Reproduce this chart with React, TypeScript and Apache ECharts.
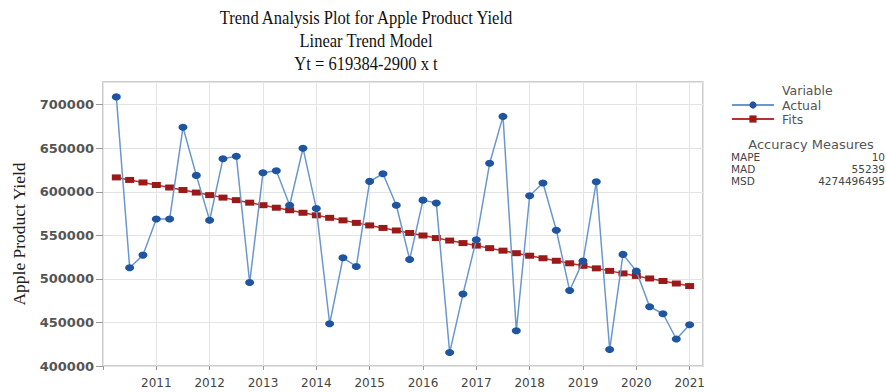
import React, { useEffect, useRef } from "react";
import * as echarts from "echarts";

const periods = [1, 2, 3, 4, 5, 6, 7, 8, 9, 10, 11, 12, 13, 14, 15, 16, 17, 18, 19, 20, 21, 22, 23, 24, 25, 26, 27, 28, 29, 30, 31, 32, 33, 34, 35, 36, 37, 38, 39, 40, 41, 42, 43, 44];

const actual = [
  708900, 512700, 527300, 568800, 568800, 674000, 618800, 567300, 638000, 640700,
  495800, 621900, 624200, 584500, 650000, 580700, 448500, 524200, 514300, 611900,
  620700, 584500, 522300, 590400, 587000, 415400, 482600, 545000, 632700, 686500,
  440400, 595400, 610000, 555800, 486600, 520400, 611500, 418900, 528100, 508900,
  468000, 460000, 431000, 447300,
];

const fits = [
  616484, 613584, 610684, 607784, 604884, 601984, 599084, 596184, 593284, 590384,
  587484, 584584, 581684, 578784, 575884, 572984, 570084, 567184, 564284, 561384,
  558484, 555584, 552684, 549784, 546884, 543984, 541084, 538184, 535284, 532384,
  529484, 526584, 523684, 520784, 517884, 514984, 512084, 509184, 506284, 503384,
  500484, 497584, 494684, 491784,
];

const firstYear = 2010;
const titleLines = ["Trend Analysis Plot for Apple Product Yield", "Linear Trend Model", "Yt = 619384-2900 x t"];
const measureNames = ["MAPE", "MAD", "MSD"];
const measureValues = ["10", "55239", "4274496495"];

export default function App() {
  const ref = useRef<HTMLDivElement>(null);
  useEffect(() => {
    if (!ref.current) return;
    const chart = echarts.init(ref.current, null, { renderer: "svg" });
    const sans = "'DejaVu Sans', sans-serif";
    const serif = "'Liberation Serif', serif";
    const graphics: any[] = [];
    titleLines.forEach((t, i) => {
      graphics.push({
        type: "text",
        x: 366,
        y: 18 + i * 23,
        scaleX: 0.87,
        style: { text: t, font: `19px ${serif}`, fill: "#111", textAlign: "center", textVerticalAlign: "middle" },
      });
    });
    graphics.push({
      type: "text",
      x: 19,
      y: 234,
      rotation: Math.PI / 2,
      style: { text: "Apple Product Yield", font: `17.5px ${serif}`, fill: "#222", textAlign: "center", textVerticalAlign: "middle" },
    });
    graphics.push({
      type: "text",
      x: 782,
      y: 90,
      style: { text: "Variable", font: `12.5px ${sans}`, fill: "#555", textVerticalAlign: "middle" },
    });
    graphics.push({
      type: "text",
      x: 811,
      y: 144,
      style: { text: "Accuracy Measures", font: `13px ${sans}`, fill: "#555", textAlign: "center", textVerticalAlign: "middle" },
    });
    measureNames.forEach((n, i) => {
      graphics.push({
        type: "text",
        x: 731,
        y: 157 + i * 12,
        style: { text: n, font: `10.5px ${sans}`, fill: "#444", textVerticalAlign: "middle" },
      });
      graphics.push({
        type: "text",
        x: 885,
        y: 157 + i * 12,
        style: { text: measureValues[i], font: `10.5px ${sans}`, fill: "#444", textAlign: "right", textVerticalAlign: "middle" },
      });
    });

    chart.setOption({
      animation: false,
      backgroundColor: "#fff",
      grid: {
        left: 103,
        right: 183,
        top: 82,
        bottom: 26,
        show: true,
        borderColor: "#bdbdbd",
        borderWidth: 1.5,
      },
      legend: {
        orient: "vertical",
        left: 731,
        top: 98,
        padding: 0,
        itemWidth: 42,
        itemHeight: 9,
        itemGap: 0,
        textStyle: { fontFamily: sans, fontSize: 12.5, lineHeight: 14, height: 14, color: "#555", padding: [0, 0, 0, 3] },
        data: ["Actual", "Fits"],
      },
      xAxis: {
        type: "value",
        min: 0,
        max: 45,
        interval: 4,
        axisLine: { show: false },
        axisTick: { show: true, length: 4, lineStyle: { color: "#999" } },
        axisLabel: {
          showMaxLabel: false,
          fontFamily: sans,
          fontSize: 12,
          color: "#444",
          margin: 11,
          formatter: (v: number) => (v > 0 && v % 4 === 0 ? String(firstYear + v / 4) : ""),
        },
        splitLine: { show: true, lineStyle: { color: "#e4e4e4", width: 1 } },
      },
      yAxis: {
        type: "value",
        min: 400000,
        max: 726000,
        interval: 50000,
        axisLine: { show: false },
        axisTick: { show: true, length: 7, lineStyle: { color: "#999" } },
        axisLabel: {
          showMaxLabel: false,
          fontFamily: sans,
          fontSize: 13,
          fontWeight: "bold",
          color: "#555",
          margin: 9,
          formatter: (v: number) => String(v),
        },
        splitLine: { show: true, lineStyle: { color: "#e4e4e4", width: 1 } },
      },
      series: [
        {
          name: "Fits",
          type: "line",
          data: periods.map((t, i) => [t, fits[i]]),
          symbol: "rect",
          symbolSize: [9, 6],
          itemStyle: { color: "#9a1a1a" },
          lineStyle: { color: "#b83030", width: 1.5 },
          z: 2,
        },
        {
          name: "Actual",
          type: "line",
          data: periods.map((t, i) => [t, actual[i]]),
          symbol: "circle",
          symbolSize: [9, 7],
          itemStyle: { color: "#1f55a0" },
          lineStyle: { color: "#6a98cc", width: 1.5 },
          z: 3,
        },
      ],
      graphic: graphics,
    });
    return () => chart.dispose();
  }, []);
  return <div ref={ref} style={{ width: 886, height: 392, position: "absolute", left: 0, top: 0 }} />;
}
